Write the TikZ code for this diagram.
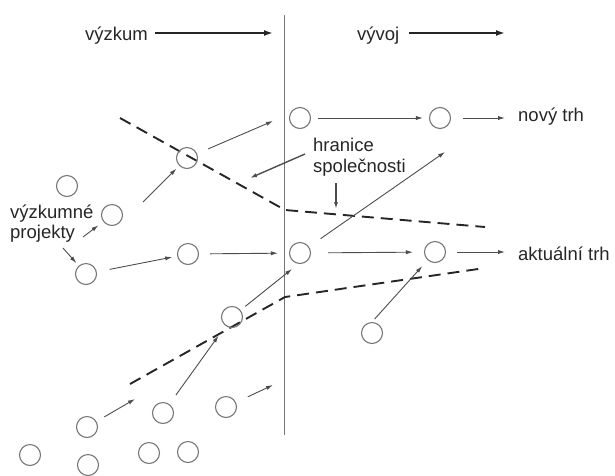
\documentclass[tikz,border=0pt]{standalone}
\usepackage{fontspec}
\setmainfont{Liberation Sans}
\usetikzlibrary{arrows.meta}
\definecolor{ink}{HTML}{262626}
\definecolor{linegray}{HTML}{4D4D4D}
\definecolor{ringgray}{HTML}{777777}
\begin{document}
\begin{tikzpicture}[x=1pt,y=-1pt,
  ring/.style={circle,draw=ringgray,line width=1.1pt,minimum size=21pt,inner sep=0pt},
  lbl/.style={anchor=base west,inner sep=0pt,text=ink,font=\fontsize{18.5}{20}\selectfont},
  arr/.style={draw=linegray,line width=0.9pt,-{Latex[length=7pt,width=4.2pt]}},
  headarr/.style={draw=ink,line width=1.6pt,-{Latex[length=9pt,width=6pt]}},
  border/.style={draw=ink,line width=1.9pt,dash pattern=on 12pt off 7pt},
  divider/.style={draw=ringgray,line width=1pt}]
\useasboundingbox (0,0) rectangle (615,475);

% dividing line between research and development
\coordinate (vt) at (284,15);
\coordinate (vb) at (284,435);
\draw[divider] (vt) -- (vb);

% headings
\node[lbl] (vyzkum) at (85,40) {výzkum};
\node[lbl] (vyvoj) at (357,40) {vývoj};
\coordinate (vyzkumEnd) at (273,33);
\coordinate (vyvojEnd) at (505,33);
\draw[headarr,shorten <=7pt] (vyzkum.east |- vyzkumEnd) -- (vyzkumEnd);
\draw[headarr,shorten <=9pt] (vyvoj.east |- vyvojEnd) -- (vyvojEnd);

% labels
\node[lbl] (novy) at (518,121) {nový trh};
\node[lbl] (aktualni) at (518,260) {aktuální trh};
\node[lbl] (hranice) at (313,151) {hranice};
\node[lbl] (spol) at (313,172) {společnosti};
\node[lbl] (vyzk) at (10,218) {výzkumné};
\node[lbl] (proj) at (10,238) {projekty};

% company boundary (dashed)
\draw[border] (120,118) -- (285,210) -- (485,227);
\draw[border] (130,384) -- (285,297) -- (485,268);

% projects
\node[ring] (c1) at (300,118) {};
\node[ring] (c2) at (440,118) {};
\node[ring] (c3) at (187,158) {};
\node[ring] (c4) at (67,186) {};
\node[ring] (c5) at (112,215) {};
\node[ring] (c6) at (86,274) {};
\node[ring] (c7) at (188,254) {};
\node[ring] (c8) at (300,253) {};
\node[ring] (c9) at (435,252) {};
\node[ring] (c10) at (232,317) {};
\node[ring] (c11) at (372,333) {};
\node[ring] (c12) at (87,427) {};
\node[ring] (c13) at (163,413) {};
\node[ring] (c14) at (226,407) {};
\node[ring] (c15) at (30,455) {};
\node[ring] (c16) at (88,465) {};
\node[ring] (c17) at (149,453) {};
\node[ring] (c18) at (188,452) {};

% free arrow ends
\coordinate (e1) at (273,121);
\coordinate (s4) at (143,202);
\coordinate (s5) at (83,237);
\coordinate (s6) at (63,248);
\coordinate (e11) at (445,152);
\coordinate (e12) at (292,269);
\coordinate (e15) at (135,399);
\coordinate (e16) at (273,385);
\coordinate (hA) at (305,154);
\coordinate (hB) at (250,178);
\coordinate (sA) at (336,183);
\coordinate (sB) at (336,209);

% project flows
\draw[arr,shorten <=12pt] (c3) -- (e1);
\draw[arr,shorten <=7pt,shorten >=6pt] (c1) -- (c2);
\draw[arr,shorten <=12pt,shorten >=13pt] (c2) -- (c2 -| novy.west);
\draw[arr,shorten >=4pt] (s4) -- (c3);
\draw[arr,shorten >=6pt] (s5) -- (c5);
\draw[arr,shorten >=3.5pt] (s6) -- (c6);
\draw[arr,shorten <=13pt,shorten >=5pt] (c6) -- (c7);
\draw[arr,shorten <=11pt,shorten >=11pt] (c7) -- (c8);
\draw[arr,shorten <=17pt,shorten >=11pt] (c8) -- (c9);
\draw[arr,shorten <=11pt,shorten >=13pt] (c9) -- (c9 -| aktualni.west);
\draw[arr,shorten <=14pt] (c8) -- (e11);
\draw[arr,shorten <=6pt] (c10) -- (e12);
\draw[arr,shorten <=4pt,shorten >=8pt] (c11.north) -- (c9);
\draw[arr,shorten <=11pt,shorten >=12pt] (c13) -- (c10);
\draw[arr,shorten <=9pt] (c12) -- (e15);
\draw[arr,shorten <=13pt] (c14) -- (e16);

% pointers to the boundary
\draw[arr,line width=1.4pt] (hA) -- (hB);
\draw[arr,line width=1.4pt] (sA) -- (sB);
\end{tikzpicture}
\end{document}
